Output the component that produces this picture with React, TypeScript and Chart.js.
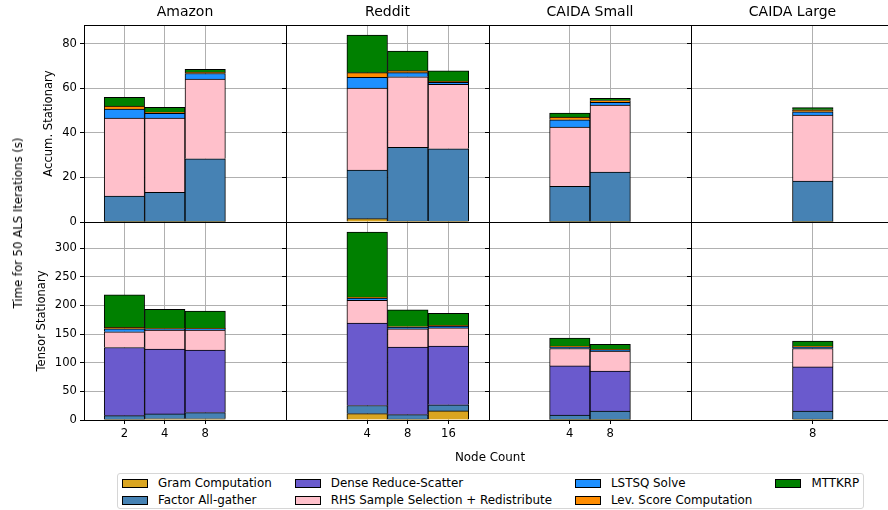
import React, { useEffect, useRef } from 'react';
import { Chart, registerables } from 'chart.js';

Chart.register(...registerables);

const FONT_FAMILY = "'DejaVu Sans', sans-serif";
Chart.defaults.font.family = FONT_FAMILY;
Chart.defaults.font.size = 11.6;
Chart.defaults.color = '#000';

// ---------- data ----------
const seriesNames = [
  'Gram Computation',
  'Factor All-gather',
  'Dense Reduce-Scatter',
  'RHS Sample Selection + Redistribute',
  'LSTSQ Solve',
  'Lev. Score Computation',
  'MTTKRP',
];
const seriesColors = ['#DAA520', '#4682B4', '#6A5ACD', '#FFC0CB', '#1E90FF', '#FF8C00', '#008000'];

const nodeAxis = ['1', '2', '4', '8', '16', '32'];
const panelTitles = ['Amazon', 'Reddit', 'CAIDA Small', 'CAIDA Large'];
const rowTitles = ['Accum. Stationary', 'Tensor Stationary'];
const accumTicks = [0, 20, 40, 60, 80];
const tensorTicks = [0, 50, 100, 150, 200, 250, 300];
const accumMax = 88.5;
const tensorMax = 345.4;

const amazonNodes = ['2', '4', '8'];
const redditNodes = ['4', '8', '16'];
const caidaSmallNodes = ['4', '8'];
const caidaLargeNodes = ['8'];

// each row follows seriesNames order; values are segment heights (s)
const amazonAccum = [
  [0.1, 0.1, 0.1],
  [11.5, 13.2, 28.3],
  [0, 0, 0],
  [35.1, 33.4, 35.8],
  [4.0, 2.1, 2.5],
  [1.4, 0.6, 0.6],
  [3.9, 2.1, 1.3],
];
const redditAccum = [
  [1.5, 0.4, 0.3],
  [21.8, 33.2, 32.6],
  [0, 0, 0],
  [36.9, 31.6, 29.0],
  [4.8, 1.9, 0.8],
  [2.1, 0.9, 0.6],
  [16.9, 8.8, 4.6],
];
const caidaSmallAccum = [
  [0.1, 0.1],
  [15.9, 22.3],
  [0, 0],
  [26.6, 30.1],
  [3.3, 1.3],
  [1.2, 0.8],
  [1.8, 1.0],
];
const caidaLargeAccum = [[0.1], [18.3], [0], [29.6], [1.5], [0.9], [1.0]];

const amazonTensor = [
  [1, 2, 2],
  [6.6, 8.6, 11],
  [118.9, 112.9, 109],
  [27.5, 33.3, 34.8],
  [5, 2.3, 2.6],
  [2.5, 0.6, 0.6],
  [57, 33.2, 30],
];
const redditTensor = [
  [11.2, 1.5, 15.9],
  [14.1, 7.9, 10.6],
  [143.7, 117.6, 102.5],
  [39.6, 32, 32],
  [4, 3, 2.5],
  [1.9, 1, 1.5],
  [113.5, 29, 21],
];
const caidaSmallTensor = [
  [0.5, 0.5],
  [8.2, 15.2],
  [85.7, 69.8],
  [30.3, 34.9],
  [2.5, 1.5],
  [1.8, 1.4],
  [13.8, 8.7],
];
const caidaLargeTensor = [[1.5], [14.2], [76.9], [32.1], [2.5], [1.6], [8.7]];

const panels = [
  { nodes: amazonNodes, accum: amazonAccum, tensor: amazonTensor },
  { nodes: redditNodes, accum: redditAccum, tensor: redditTensor },
  { nodes: caidaSmallNodes, accum: caidaSmallAccum, tensor: caidaSmallTensor },
  { nodes: caidaLargeNodes, accum: caidaLargeAccum, tensor: caidaLargeTensor },
];

// ---------- layout ----------
const colEdges = [84, 286, 489, 691, 894];
const ROW_TOP = [25, 222];
const ROW_BOTTOM = [222, 420];
const TITLE_BOX = 25;
const TOP_PAD_BOTTOM = 12;
const BOTTOM_PAD_TOP = 12;
const XAXIS_H = 30;
const RIGHT_PAD = 4;

function geometry(row: number, col: number) {
  const L = col === 0 ? 84 : 10;
  const W = colEdges[col + 1] - colEdges[col];
  const x = colEdges[col] - L;
  const w = L + W + RIGHT_PAD;
  const H = ROW_BOTTOM[row] - ROW_TOP[row];
  if (row === 0) {
    return { L, x, w, y: ROW_TOP[0] - TITLE_BOX, h: TITLE_BOX + H + TOP_PAD_BOTTOM };
  }
  return { L, x, w, y: ROW_TOP[1] - BOTTOM_PAD_TOP, h: BOTTOM_PAD_TOP + H + XAXIS_H };
}

const framePlugin = {
  id: 'frame',
  afterDraw(chart: any) {
    const { ctx, chartArea: a } = chart;
    const al = (p: number) => Math.round(p - 0.5) + 0.5;
    ctx.save();
    ctx.strokeStyle = '#000';
    ctx.lineWidth = 1;
    ctx.beginPath();
    ctx.moveTo(a.left, al(a.top));
    ctx.lineTo(al(a.right), al(a.top));
    ctx.lineTo(al(a.right), a.bottom);
    ctx.stroke();
    ctx.restore();
  },
};

function makeConfig(row: number, col: number, L: number): any {
  const panel = panels[col];
  const nodes = panel.nodes;
  const values = row === 0 ? panel.accum : panel.tensor;
  const shown = (i: number) => nodes.includes(nodeAxis[i]);
  const transparent = 'rgba(0,0,0,0)';

  const datasets = seriesNames.map((name, s) => ({
    label: name,
    data: nodes.map((n, i) => ({ x: n, y: values[s][i] })),
    backgroundColor: seriesColors[s],
    borderColor: '#000',
    borderWidth: 1,
    borderSkipped: 'start',
    barPercentage: 1,
    categoryPercentage: 1,
  }));

  return {
    type: 'bar',
    data: { labels: nodeAxis, datasets },
    plugins: [framePlugin],
    options: {
      responsive: false,
      animation: false,
      devicePixelRatio: 1,
      layout: {
        padding: {
          top: row === 0 ? 0 : BOTTOM_PAD_TOP,
          bottom: row === 0 ? TOP_PAD_BOTTOM : 0,
          left: 0,
          right: RIGHT_PAD,
        },
      },
      plugins: {
        legend: { display: false },
        tooltip: { enabled: false },
        title: {
          display: row === 0,
          text: panelTitles[col],
          fullSize: false,
          color: '#000',
          font: { size: 14, lineHeight: 1.2, weight: 'normal' },
          padding: { top: 3.6, bottom: 4.6 },
        },
      },
      scales: {
        x: {
          type: 'category',
          labels: nodeAxis,
          offset: false,
          stacked: true,
          z: 1,
          grid: {
            offset: false,
            color: (c: any) => (shown(c.index) ? '#b0b0b0' : transparent),
            tickColor: (c: any) => (shown(c.index) ? '#000' : transparent),
            lineWidth: 1,
            drawTicks: row === 1,
            tickLength: 4,
          },
          border: { display: true, color: '#000', width: 1 },
          ticks: {
            display: row === 1,
            autoSkip: false,
            maxRotation: 0,
            minRotation: 0,
            padding: 3,
            color: '#000',
            font: { size: 11.6 },
            callback: (_v: any, i: number) => (shown(i) ? nodeAxis[i] : ''),
          },
          afterFit: (s: any) => {
            s.height = row === 1 ? XAXIS_H : 0;
          },
        },
        y: {
          type: 'linear',
          stacked: true,
          min: 0,
          max: row === 0 ? accumMax : tensorMax,
          z: 1,
          afterBuildTicks: (s: any) => {
            s.ticks = (row === 0 ? accumTicks : tensorTicks).map((v) => ({ value: v }));
          },
          grid: {
            color: '#b0b0b0',
            lineWidth: 1,
            drawTicks: true,
            tickLength: 4,
            tickColor: '#000',
          },
          border: { display: true, color: '#000', width: 1 },
          ticks: {
            display: col === 0,
            padding: 3,
            color: '#000',
            font: { size: 11.6 },
          },
          title: {
            display: col === 0,
            text: rowTitles[row],
            color: '#000',
            font: { size: 11.6, lineHeight: 1.2 },
            padding: { top: row === 0 ? 42 : 35, bottom: 0 },
          },
          afterFit: (s: any) => {
            s.width = L;
          },
        },
      },
    },
  };
}

function Panel({ row, col }: { row: number; col: number }) {
  const ref = useRef<HTMLCanvasElement>(null);
  const g = geometry(row, col);
  useEffect(() => {
    const chart = new Chart(ref.current as HTMLCanvasElement, makeConfig(row, col, g.L));
    return () => chart.destroy();
  }, [row, col]);
  return (
    <canvas
      ref={ref}
      width={g.w}
      height={g.h}
      style={{ position: 'absolute', left: g.x, top: g.y, width: g.w, height: g.h }}
    />
  );
}

function Legend() {
  return (
    <div
      style={{
        position: 'absolute',
        left: 117,
        top: 473,
        border: '1px solid #d6d6d6',
        borderRadius: 3,
        padding: '2px 4px 1px 4px',
        display: 'grid',
        gridTemplateRows: 'repeat(2, 14px)',
        gridAutoFlow: 'column',
        columnGap: 23,
        rowGap: 3,
        background: '#fff',
        fontFamily: FONT_FAMILY,
        fontSize: 11.9,
        color: '#000',
      }}
    >
      {seriesNames.map((n, i) => (
        <div key={n} style={{ display: 'flex', alignItems: 'center', whiteSpace: 'nowrap', lineHeight: '14px' }}>
          <span
            style={{
              display: 'inline-block',
              width: 26,
              height: 9,
              background: seriesColors[i],
              border: '1px solid #000',
              boxSizing: 'border-box',
              marginRight: 10,
            }}
          />
          {n}
        </div>
      ))}
    </div>
  );
}

export default function App() {
  const cells: React.ReactNode[] = [];
  for (let r = 0; r < 2; r++) {
    for (let c = 0; c < 4; c++) {
      cells.push(<Panel key={`${r}-${c}`} row={r} col={c} />);
    }
  }
  return (
    <div
      style={{
        position: 'absolute',
        left: 0,
        top: 0,
        width: 888,
        height: 510,
        overflow: 'hidden',
        background: '#fff',
        fontFamily: FONT_FAMILY,
      }}
    >
      {cells}
      <div
        style={{
          position: 'absolute',
          left: 18,
          top: 222.5,
          transform: 'translate(-50%, -50%) rotate(-90deg)',
          whiteSpace: 'nowrap',
          fontSize: 11.7,
          color: '#000',
        }}
      >
        Time for 50 ALS Iterations (s)
      </div>
      <div
        style={{
          position: 'absolute',
          left: 490,
          top: 457,
          transform: 'translate(-50%, -50%)',
          whiteSpace: 'nowrap',
          fontSize: 11.9,
          color: '#000',
        }}
      >
        Node Count
      </div>
      <Legend />
    </div>
  );
}
